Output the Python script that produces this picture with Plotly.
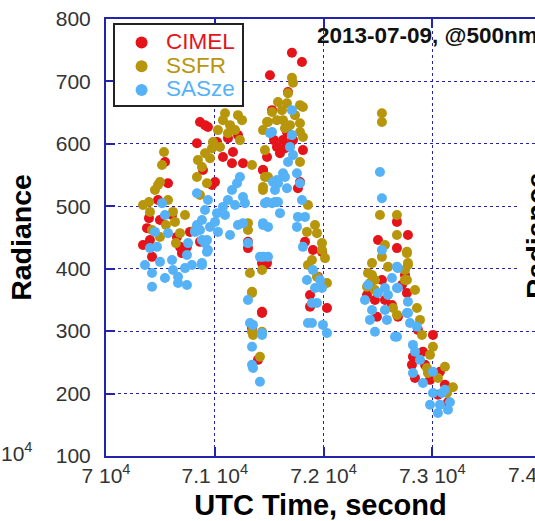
import plotly.graph_objects as go

# ---------------- data (UTC seconds, radiance) ----------------
cimel_t = [70542, 70570, 70478, 70395, 70404, 70423, 70680, 70744, 70698, 70652,
           70377, 70340, 70772, 70864, 70607, 70496,
           70864, 70937, 70836, 71020, 71121, 71167, 71158, 71259, 71213, 71443,
           71075, 70891, 71002, 71305, 71305, 71434, 71480, 71434, 71342, 71397,
           70974, 70910,
           71709, 71801, 71507, 71673, 71526, 71571, 71627, 71599, 71810, 71443,
           71480, 71719, 71663, 71764, 71902, 71829, 71985, 71948, 71875, 72031,
           71434, 71875, 71461, 71783, 71645, 71691, 71544,
           72674, 72775, 72500, 72674, 72536, 72399, 72472, 72766, 72748, 72490,
           72683, 73005, 72913, 72821, 72812, 72978, 73115, 73143, 73051,
           72426, 72564, 72628, 72720, 72867, 72932, 72840, 73069]
cimel_v = [571, 537, 510, 481, 446, 419, 435, 435, 425, 451,
           465, 438, 459, 443, 486, 478,
           635, 627, 601, 603, 609, 587, 569, 569, 614, 558,
           579, 558, 539, 443, 433, 409, 409, 331, 305, 254,
           534, 630,
           746, 731, 710, 683, 654, 595, 606, 585, 590, 558,
           579, 606, 619, 529, 430, 443, 427, 387, 358, 337,
           329, 339, 406, 539, 593, 598, 606,
           475, 454, 446, 433, 382, 358, 350, 361, 390, 323,
           323, 294, 267, 259, 246, 222, 214, 186, 198,
           374, 350, 342, 374, 302, 246, 225, 235]

ssfr_t = [70533, 70515, 70496, 70478, 70395, 70404, 70423, 70496, 70616, 70634,
          70680, 70340, 70450, 70570, 70726, 70818, 70643, 70551,
          71094, 71075, 71213, 71250, 71186, 71121, 70983, 70974, 71048, 70910,
          70845, 70956, 70882, 70836, 70928, 71480, 71461, 71443, 71305, 71305,
          71323, 71434, 71342, 71351, 71434, 71415, 71140, 71029, 71231, 70864,
          71709, 71719, 71673, 71581, 71663, 71783, 71810, 71489, 71571, 71627,
          71691, 71783, 71783, 71810, 71443, 71342, 71489, 71783, 71443, 71461,
          71921, 71847, 71939, 71985, 71985, 72013, 71893, 71856, 72031, 71342,
          71939, 71342, 71856, 71526, 71617, 71737, 71645,
          72536, 72518, 72674, 72674, 72564, 72766, 72775, 72445, 72408, 72536,
          72592, 72472, 72426, 72399, 72748, 72638, 72674, 72748, 72536, 72766,
          72775, 72766, 72840, 72858, 72886, 72904, 73005, 72978, 72950, 73115,
          73051, 73189, 73134, 72959, 72472, 72445]
ssfr_v = [587, 566, 539, 534, 507, 491, 462, 451, 491, 475,
          457, 502, 526, 510, 486, 462, 441, 470,
          649, 638, 646, 638, 622, 617, 603, 593, 595, 585,
          574, 577, 563, 547, 537, 635, 590, 526, 473, 462,
          393, 398, 361, 294, 299, 259, 630, 622, 606, 518,
          706, 698, 681, 667, 665, 662, 659, 635, 638, 638,
          630, 633, 619, 611, 622, 566, 547, 571, 531, 547,
          470, 459, 457, 441, 430, 417, 414, 406, 377, 363,
          387, 299, 502, 651, 654, 646, 625,
          635, 486, 486, 454, 438, 427, 406, 409, 393, 419,
          403, 382, 377, 371, 398, 337, 326, 382, 649, 425,
          409, 382, 366, 337, 318, 294, 275, 262, 241, 243,
          225, 210, 201, 233, 366, 390]

sasze_t = [70515, 70542, 70570, 70404, 70469, 70607, 70616, 70423, 70423, 70662,
           70662, 70744, 70790, 70882, 70744, 70754, 70818, 70836, 70882, 70928,
           70937, 70836, 70358, 70496, 70542, 70450, 70726,
           71526, 71231, 71204, 71158, 71121, 71075, 71020, 70937, 70910, 71259,
           71277, 71461, 71526, 71213, 71259, 71443, 71489, 70956, 70864, 70882,
           71029, 70910, 70928, 70882, 71305, 71415, 71489, 71305, 71323, 71434,
           71342, 71342, 71351, 71415, 71094, 71186, 71002, 71140,
           71709, 71507, 71709, 71691, 71719, 71673, 71755, 71627, 71571, 71645,
           71581, 71783, 71535, 71553, 71663, 71480, 71553, 71581, 71599, 71443,
           71764, 71829, 71755, 71810, 71443, 71902, 71847, 71967, 71921, 71985,
           71939, 71893, 71856, 71893, 71994, 72031, 71351, 71434, 71801,
           72518, 72536, 72536, 72674, 72564, 72674, 72592, 72500, 72445, 72564,
           72426, 72582, 72472, 72656, 72775, 72794, 72683, 72683, 72775, 72766,
           72858, 72821, 72840, 72821, 72886, 72913, 73005, 73005, 73088, 73115,
           72978, 73069, 73143, 73051, 73161, 72674, 72380, 72408, 72628]
sasze_v = [505, 486, 457, 433, 435, 414, 398, 393, 371, 387,
           377, 374, 406, 406, 422, 441, 459, 470, 478, 446,
           430, 521, 406, 411, 385, 459, 401,
           619, 547, 537, 526, 510, 499, 489, 510, 494, 515,
           505, 505, 505, 470, 473, 473, 467, 467, 462, 446,
           459, 441, 427, 409, 441, 419, 419, 350, 313, 294,
           275, 246, 241, 219, 486, 502, 475, 454,
           654, 617, 614, 595, 582, 571, 553, 553, 542, 547,
           537, 537, 539, 526, 529, 507, 507, 507, 489, 470,
           483, 483, 467, 435, 419, 398, 382, 382, 369, 369,
           345, 345, 313, 313, 310, 297, 310, 297, 510,
           555, 513, 430, 403, 369, 369, 358, 361, 334, 334,
           318, 318, 299, 291, 329, 313, 401, 369, 347, 329,
           307, 278, 267, 233, 254, 217, 235, 201, 201, 206,
           182, 182, 174, 169, 186, 291, 350, 374, 385]

x_tickvals = [70000, 71000, 72000, 73000]
x_ticktext = ["7 10<sup>4</sup>", "7.1 10<sup>4</sup>", "7.2 10<sup>4</sup>", "7.3 10<sup>4</sup>"]
y_tickvals = [100, 200, 300, 400, 500, 600, 700, 800]

FONT = "Arial, Liberation Sans, sans-serif"
AXC = "#2323b0"
RED = "#e5141b"
OLV = "#b8960c"
BLU = "#56b2f7"

fig = go.Figure()
for name, t, v, c in [("CIMEL", cimel_t, cimel_v, RED),
                      ("SSFR", ssfr_t, ssfr_v, OLV),
                      ("SASze", sasze_t, sasze_v, BLU)]:
    fig.add_trace(go.Scatter(
        x=t, y=v, mode="markers",
        name="\u00a0<span style='color:%s;font-size:22.5px'>%s</span>" % (c, name),
        marker=dict(color=c, size=10, line=dict(width=0)),
    ))

fig.update_layout(
    width=535, height=521,
    margin=dict(l=106, r=0, t=19, b=65),
    paper_bgcolor="white", plot_bgcolor="white",
    font=dict(family=FONT, size=21, color="#333333"),
    showlegend=True,
    legend=dict(x=0.0363, y=0.985, xanchor="left", yanchor="top",
                bgcolor="rgba(0,0,0,0)", borderwidth=0,
                font=dict(family=FONT, size=16), tracegroupgap=0,
                itemsizing="constant"),
)

fig.update_xaxes(
    range=[70000, 73943], tickmode="array", tickvals=x_tickvals, ticktext=x_ticktext,
    ticks="inside", ticklen=9, tickwidth=2, tickcolor=AXC,
    showline=True, linecolor=AXC, linewidth=2, mirror="ticks",
    showgrid=True, gridcolor=AXC, gridwidth=1, griddash="dot",
    zeroline=False, tickfont=dict(family=FONT, size=21, color="#333333"),
    title=dict(text="<b>UTC Time, second</b>", font=dict(family=FONT, size=29, color="black"),
               standoff=11),
)
fig.update_yaxes(
    range=[100, 800], tickmode="array", tickvals=y_tickvals,
    ticks="inside", ticklen=9, tickwidth=2, tickcolor=AXC,
    showline=True, linecolor=AXC, linewidth=2, mirror=False,
    showgrid=True, gridcolor=AXC, gridwidth=1, griddash="dot",
    zeroline=False, tickfont=dict(family=FONT, size=21, color="#333333"),
    ticklabelstandoff=9,
    title=dict(text="<b>Radiance</b>", font=dict(family=FONT, size=28.5, color="black"),
               standoff=16),
)

# legend frame
fig.add_shape(type="rect", xref="paper", yref="paper",
              x0=(114 - 106) / 429, x1=(243 - 106) / 429,
              y0=1 - (106 - 19) / 437, y1=1 - (24 - 19) / 437,
              line=dict(color="#222222", width=2), fillcolor="white", layer="above")

# panel label
fig.add_annotation(text="<b>2013-07-09, @500nm</b>", xref="paper", yref="paper",
                   x=(315 - 106) / 429, y=1 - (35 - 19) / 437, xanchor="left", yanchor="middle",
                   showarrow=False, font=dict(family=FONT, size=22.5, color="#111111"))
# next tick label (cut at the right edge)
fig.add_annotation(text="7.4 10<sup>4</sup>", xref="paper", yref="paper",
                   x=(541 - 106) / 429, y=-0.005, xanchor="center", yanchor="top",
                   showarrow=False, font=dict(family=FONT, size=21, color="#333333"))
# fragments of neighbouring panels
fig.add_annotation(text="10<sup>4</sup>", xref="paper", yref="paper",
                   x=(-1 - 106) / 429, y=1 - (452 - 19) / 437, xanchor="left", yanchor="middle",
                   showarrow=False, font=dict(family=FONT, size=21, color="#333333"))
fig.add_annotation(text="<b>Radiance</b>", xref="paper", yref="paper",
                   x=(536 - 106) / 429, y=1 - (236 - 19) / 437, xanchor="center", yanchor="middle",
                   textangle=-90, showarrow=False, bgcolor="white",
                   font=dict(family=FONT, size=28.5, color="black"))

fig.write_html("out.html")
